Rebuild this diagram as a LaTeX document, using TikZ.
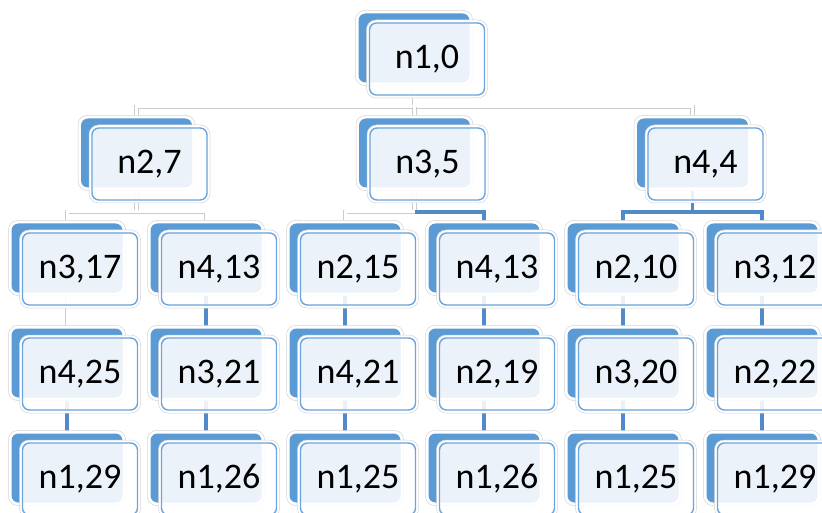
\documentclass[tikz,border=0pt]{standalone}
\usepackage{fontspec}
\setmainfont{Carlito}
\pgfdeclarelayer{background}
\pgfsetlayers{background,main}
\definecolor{backblue}{RGB}{91,155,213}
\definecolor{rimblue}{RGB}{108,165,222}
\definecolor{linkblue}{RGB}{80,138,202}
\tikzset{
  halo/.style={rectangle, rounded corners=9pt, fill=white, draw=black!17, line width=0.5pt, inner sep=0pt},
  ring/.style={fill=white, draw=black!17, line width=0.5pt, even odd rule},
  backcard/.style={rectangle, rounded corners=7pt, fill=backblue, minimum width=111pt, minimum height=69pt, inner sep=0pt},
  frontcard/.style={rectangle, rounded corners=7pt, draw=rimblue, line width=1.4pt, fill=white, fill opacity=0.88, text opacity=1,
    minimum width=115pt, minimum height=72pt, inner sep=0pt, font=\fontsize{36}{42}\selectfont},
  faintlink/.style={draw=black!20, line width=0.6pt, double=white, double distance=3pt},
  bluelink/.style={draw=linkblue, line width=3.2pt},
}
% #1 name, #2 x, #3 y (centre of the front card), #4 label
\newcommand\card[4]{%
  \node[halo, minimum width=117pt, minimum height=75pt] (#1-bh) at (#2-13,#3-11) {};
  \node[backcard] (#1-b) at (#2-13,#3-11) {};
  \path[ring]
    [rounded corners=9.5pt] (#2-60.5,#3-39) rectangle (#2+60.5,#3+39)
    [rounded corners=7pt] (#2-57.5,#3-36) rectangle (#2+57.5,#3+36);
  \node[frontcard] (#1) at (#2,#3) {#4};
}
\begin{document}
\begin{tikzpicture}[x=1pt,y=-1pt]
  \clip (0,0) rectangle (822,513);

  % level 1
  \card{r}{427}{59}{n1,0}
  % level 2
  \card{a}{149.5}{164}{n2,7}
  \card{b}{427.5}{164}{n3,5}
  \card{c}{705.5}{164}{n4,4}
  % level 3
  \card{a1}{80}{269}{n3,17}
  \card{a2}{219}{269}{n4,13}
  \card{b1}{358}{269}{n2,15}
  \card{b2}{497}{269}{n4,13}
  \card{c1}{636}{269}{n2,10}
  \card{c2}{775}{269}{n3,12}
  % level 4
  \card{a11}{80}{374}{n4,25}
  \card{a21}{219}{374}{n3,21}
  \card{b11}{358}{374}{n4,21}
  \card{b21}{497}{374}{n2,19}
  \card{c11}{636}{374}{n3,20}
  \card{c21}{775}{374}{n2,22}
  % level 5
  \card{a111}{80}{479}{n1,29}
  \card{a211}{219}{479}{n1,26}
  \card{b111}{358}{479}{n1,25}
  \card{b211}{497}{479}{n1,26}
  \card{c111}{636}{479}{n1,25}
  \card{c211}{775}{479}{n1,29}

  \coordinate (bar1) at (0,107);
  \coordinate (bar2) at (0,212);

  \begin{pgfonlayer}{background}
    \fill[white] (0,0) rectangle (822,513);
    % root to level 2
    \draw[faintlink] (r-b.center) -- (r-b.center |- bar1);
    \draw[faintlink] (a-b.center) -- (a-b.center |- bar1) -- (c-b.center |- bar1) -- (c-b.center);
    \draw[faintlink] (b-b.center |- bar1) -- (b-b.center);
    % n2,7 children
    \draw[faintlink] (a-b.center) -- (a-b.center |- bar2);
    \draw[faintlink] (a1-b.center) -- (a1-b.center |- bar2) -- (a2-b.center |- bar2) -- (a2-b.center);
    % n3,5 children
    \draw[faintlink] (b-b.center) -- (b-b.center |- bar2);
    \draw[faintlink] (b-b.center |- bar2) -- (b1-b.center |- bar2) -- (b1-b.center);
    \draw[bluelink] (b-b.center |- bar2) -- (b2-b.center |- bar2) -- (b2-b.center);
    % n4,4 children
    \draw[bluelink] (c-b.center) -- (c-b.center |- bar2);
    \draw[bluelink] (c1-b.center) -- (c1-b.center |- bar2) -- (c2-b.center |- bar2) -- (c2-b.center);
    % level 3 to level 4
    \draw[faintlink] (a1-b.center) -- (a11-b.center);
    \draw[bluelink] (a2-b.center) -- (a21-b.center);
    \draw[bluelink] (b1-b.center) -- (b11-b.center);
    \draw[bluelink] (b2-b.center) -- (b21-b.center);
    \draw[bluelink] (c1-b.center) -- (c11-b.center);
    \draw[bluelink] (c2-b.center) -- (c21-b.center);
    % level 4 to level 5
    \draw[bluelink] (a11-b.center) -- (a111-b.center);
    \draw[bluelink] (a21-b.center) -- (a211-b.center);
    \draw[bluelink] (b11-b.center) -- (b111-b.center);
    \draw[bluelink] (b21-b.center) -- (b211-b.center);
    \draw[bluelink] (c11-b.center) -- (c111-b.center);
    \draw[bluelink] (c21-b.center) -- (c211-b.center);
  \end{pgfonlayer}
\end{tikzpicture}
\end{document}
